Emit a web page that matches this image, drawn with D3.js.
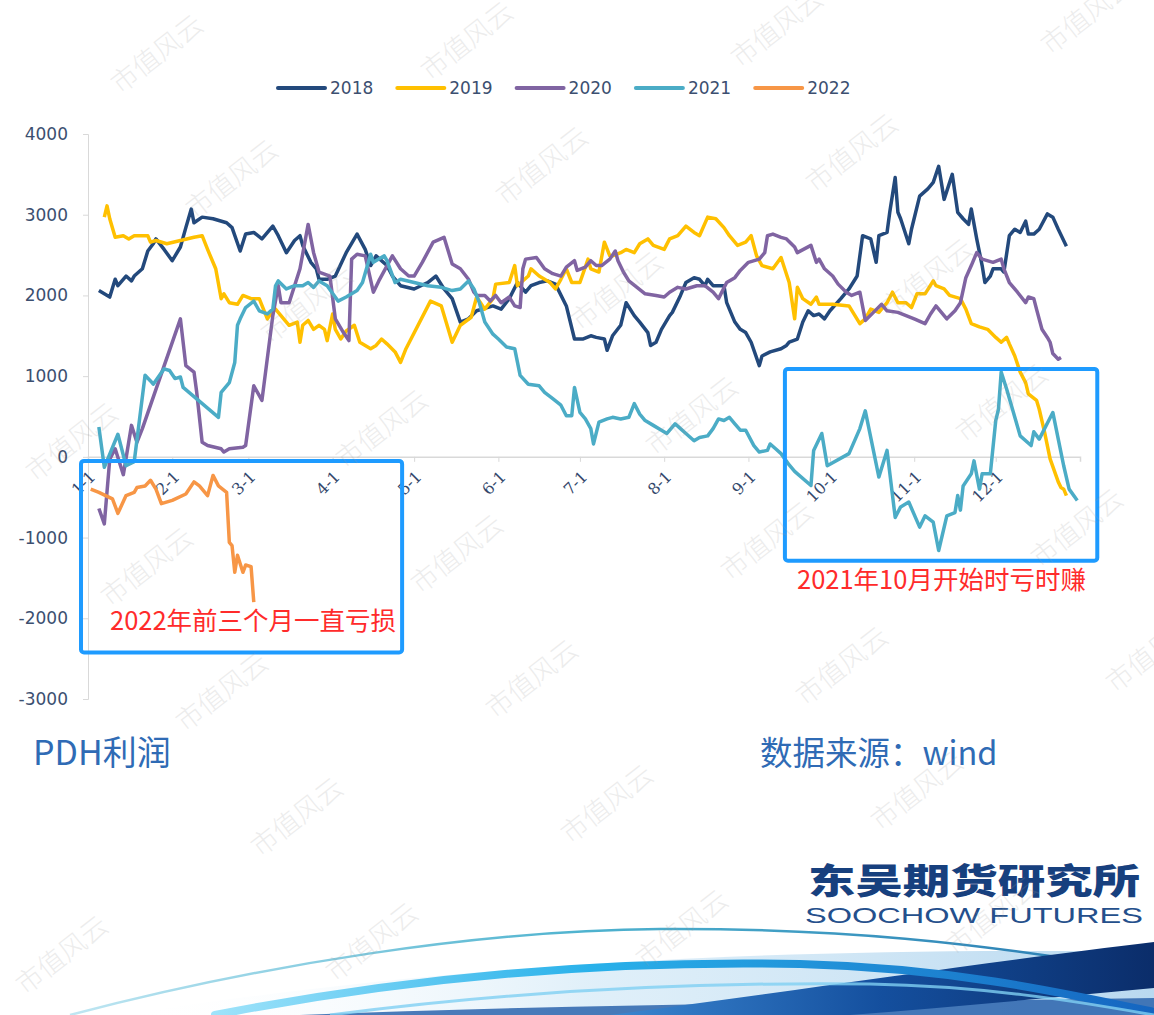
<!DOCTYPE html>
<html>
<head>
<meta charset="utf-8">
<script src="https://cdn.jsdelivr.net/npm/d3@7"></script>
<style>
  body { margin: 0; background: #fff; }
  text { font-family: "Noto Sans CJK SC", "Open Sans", sans-serif; }
</style>
</head>
<body>
<div class="chart"></div>
<script>
// ---- data (PDH profit, yuan/t) ----
const years = ["2018", "2019", "2020", "2021", "2022"];
const yTicks = [-3000, -2000, -1000, 0, 1000, 2000, 3000, 4000];

const s2018 = [["01-05",2060],["01-09",1980],["01-11",2200],["01-12",2120],["01-15",2240],["01-17",2180],["01-18",2240],["01-21",2330],["01-23",2550],["01-25",2640],["01-26",2700],["01-29",2570],
  ["02-01",2430],["02-04",2600],["02-06",2840],["02-08",3070],["02-09",2900],["02-12",2970],["02-16",2950],["02-21",2900],["02-23",2840],["02-26",2550],["02-28",2760],
  ["03-03",2780],["03-06",2700],["03-10",2860],["03-12",2740],["03-15",2530],["03-18",2680],["03-20",2740],["03-21",2620],["03-24",2410],["03-26",2330],["03-27",2200],["03-30",2200],
  ["04-02",2240],["04-06",2530],["04-10",2760],["04-13",2570],["04-15",2370],["04-17",2490],["04-21",2370],["04-23",2240],["04-26",2120],
  ["05-01",2080],["05-06",2160],["05-09",2240],["05-12",2080],["05-15",1960],["05-18",1670],["05-21",1710],["05-24",1810],["05-30",1870],
  ["06-02",1830],["06-05",1960],["06-08",2160],["06-11",2040],["06-13",2120],["06-16",2160],["06-19",2180],["06-22",2140],["06-26",1870],["06-29",1460],
  ["07-02",1460],["07-05",1500],["07-07",1480],["07-10",1460],["07-11",1320],["07-13",1500],["07-16",1630],["07-18",1910],["07-21",1750],["07-23",1670],["07-26",1540],["07-27",1380],["07-29",1420],["07-31",1580],
  ["08-03",1750],["08-04",1790],["08-07",2000],["08-09",2160],["08-12",2220],["08-14",2200],["08-16",2120],["08-17",2200],["08-19",2120],["08-23",2120],["08-24",1910],["08-27",1670],["08-29",1580],["08-31",1540],
  ["09-02",1420],["09-05",1130],["09-06",1250],["09-09",1300],["09-13",1340],["09-15",1380],["09-16",1420],["09-19",1460],["09-21",1670],["09-23",1810],["09-25",1750],["09-27",1770],["09-29",1710],
  ["10-01",1810],["10-05",1960],["10-08",2080],["10-11",2240],["10-13",2740],["10-16",2700],["10-18",2410],["10-19",2740],["10-22",2780],["10-23",3030],["10-25",3460],["10-26",3030],["10-27",2950],["10-30",2640],["10-31",2820],
  ["11-03",3230],["11-06",3320],["11-08",3400],["11-10",3600],["11-12",3190],["11-15",3500],["11-17",3030],["11-19",2950],["11-21",2880],["11-22",3070],["11-24",2700],["11-26",2370],["11-27",2160],["11-29",2240],["11-30",2330],
  ["12-03",2330],["12-04",2290],["12-06",2740],["12-08",2820],["12-10",2780],["12-12",2920],["12-13",2760],["12-15",2760],["12-17",2820],["12-20",3010],["12-22",2970],["12-24",2820],["12-27",2610]];

const s2019 = [["01-07",2970],["01-08",3110],["01-09",2950],["01-11",2720],["01-14",2740],["01-16",2700],["01-18",2740],["01-23",2740],["01-24",2660],["01-26",2680],["01-30",2640],
  ["02-04",2680],["02-09",2720],["02-12",2740],["02-14",2570],["02-17",2330],["02-19",1960],["02-20",2020],["02-22",1910],["02-25",1890],["02-27",2000],
  ["03-02",1960],["03-05",1960],["03-08",1710],["03-10",1810],["03-11",1830],["03-14",1710],["03-16",1630],["03-19",1670],["03-20",1420],["03-21",1630],["03-23",1690],["03-25",1580],["03-27",1630],["03-29",1580],["03-30",1440],
  ["04-01",1770],["04-02",1580],["04-04",1460],["04-06",1560],["04-09",1630],["04-11",1420],["04-13",1380],["04-15",1340],["04-17",1380],["04-19",1460],["04-21",1400],["04-24",1300],["04-26",1170],["04-28",1340],
  ["05-07",1930],["05-11",1870],["05-15",1420],["05-18",1630],["05-22",1730],["05-24",1980],["05-27",1830],["05-30",1960],["05-31",2140],
  ["06-05",2160],["06-07",2370],["06-08",2120],["06-12",2240],["06-13",2330],["06-16",2240],["06-20",2160],["06-22",2080],["06-24",2200],["06-26",2330],["06-28",2160],
  ["07-01",2160],["07-04",2450],["07-05",2330],["07-08",2290],["07-10",2660],["07-12",2490],["07-13",2490],["07-16",2530],["07-18",2570],["07-21",2530],["07-23",2640],["07-26",2700],["07-28",2620],
  ["08-01",2570],["08-03",2700],["08-06",2740],["08-09",2860],["08-12",2780],["08-14",2740],["08-17",2970],["08-20",2950],["08-23",2840],["08-25",2740],["08-28",2620],["08-31",2660],
  ["09-02",2740],["09-04",2490],["09-06",2370],["09-10",2330],["09-13",2470],["09-16",2160],["09-18",1710],["09-19",2100],["09-21",1960],["09-24",1890],["09-26",1980],["09-27",1890],
  ["10-02",1890],["10-08",1870],["10-12",1650],["10-14",1710],["10-16",1830],["10-19",1790],["10-22",1910],["10-24",2040],["10-26",1910],["10-29",1910],["10-31",1850],
  ["11-02",2020],["11-05",2020],["11-08",2180],["11-09",2120],["11-12",2080],["11-14",2000],["11-18",1960],["11-20",1830],["11-22",1650],["11-25",1610],["11-28",1580],
  ["12-01",1480],["12-03",1420],["12-05",1480],["12-06",1400],["12-08",1250],["12-10",1050],["12-12",920],["12-13",780],["12-16",700],["12-17",590],["12-19",300],["12-21",-25],["12-24",-310],["12-25",-380],["12-26",-400],["12-27",-480]];

const s2020 = [["01-05",-640],["01-07",-830],["01-09",-30],["01-11",100],["01-14",-220],["01-17",390],["01-19",180],["01-21",350],
  ["02-04",1710],["02-06",1130],["02-09",1050],["02-10",800],["02-12",180],["02-14",140],["02-19",100],["02-20",60],["02-22",100],["02-27",120],["02-28",140],
  ["03-03",880],["03-06",700],["03-10",1750],["03-12",2120],["03-13",1910],["03-16",1910],["03-20",2330],["03-23",2880],["03-25",2530],["03-27",2290],["03-31",2240],
  ["04-02",1710],["04-05",1540],["04-07",1440],["04-08",2450],["04-10",2510],["04-13",2490],["04-16",2040],["04-18",2180],["04-23",2490],["04-26",2330],["04-29",2240],
  ["05-01",2240],["05-04",2410],["05-08",2660],["05-12",2720],["05-15",2390],["05-18",2330],["05-21",2200],["05-23",2040],["05-24",2000],["05-27",2000],["05-29",1930],["05-31",2000],
  ["06-02",1910],["06-05",1980],["06-07",1870],["06-09",1850],["06-10",2330],["06-11",2450],["06-15",2470],["06-18",2330],["06-21",2270],["06-24",2240],["06-26",2350],["06-29",2430],["06-30",2310],
  ["07-03",2350],["07-05",2430],["07-07",2370],["07-09",2370],["07-12",2450],["07-14",2550],["07-15",2430],["07-17",2290],["07-19",2180],["07-22",2100],["07-25",2020],["07-29",2000],
  ["08-01",1980],["08-03",2040],["08-06",2100],["08-09",2080],["08-13",2120],["08-16",2120],["08-19",2040],["08-21",1960],["08-24",2160],["08-27",2220],["08-29",2310],
  ["09-01",2410],["09-05",2450],["09-07",2530],["09-08",2740],["09-10",2760],["09-13",2720],["09-15",2700],["09-18",2600],["09-19",2530],["09-24",2620],["09-26",2410],["09-27",2450],["09-29",2330],
  ["10-02",2240],["10-04",2140],["10-07",2040],["10-09",2000],["10-12",2040],["10-14",1690],["10-17",1790],["10-20",1890],["10-22",1810],["10-26",1790],["10-29",1750],
  ["11-01",1710],["11-05",1650],["11-07",1770],["11-09",1870],["11-13",1710],["11-16",1810],["11-18",1910],["11-20",2220],["11-22",2370],["11-24",2530],["11-26",2450],["11-30",2410],
  ["12-03",2450],["12-04",2330],["12-06",2160],["12-09",2040],["12-12",1910],["12-13",1980],["12-15",1960],["12-16",1830],["12-18",1580],["12-20",1480],["12-21",1420],["12-22",1280],["12-24",1210],["12-25",1230]];

const s2021 = [["01-05",370],["01-07",-130],["01-12",280],["01-15",-110],["01-18",-60],["01-22",1010],["01-24",940],["01-25",900],["01-29",1090],["01-31",1070],
  ["02-02",970],["02-04",990],["02-05",860],["02-18",490],["02-19",800],["02-21",880],["02-22",920],["02-24",1170],["02-25",1630],["02-26",1710],["02-28",1850],
  ["03-03",1930],["03-05",1810],["03-08",1770],["03-10",1830],["03-11",2120],["03-12",2180],["03-15",2080],["03-18",2120],["03-21",2120],["03-23",2160],["03-25",2100],["03-27",2180],["03-30",2120],
  ["04-03",1930],["04-06",1980],["04-10",2060],["04-12",2160],["04-15",2510],["04-16",2410],["04-18",2450],["04-20",2490],["04-21",2430],["04-24",2160],["04-26",2200],
  ["05-01",2160],["05-06",2120],["05-11",2100],["05-15",2060],["05-18",2080],["05-21",2180],["05-23",2080],["05-25",1910],["05-27",1670],["05-30",1520],
  ["06-01",1460],["06-04",1360],["06-07",1340],["06-09",1010],["06-12",900],["06-16",880],["06-18",800],["06-21",720],["06-24",640],["06-26",510],["06-28",510],["06-29",860],
  ["07-01",550],["07-03",470],["07-05",350],["07-06",160],["07-08",430],["07-11",470],["07-13",490],["07-16",470],["07-19",490],["07-21",660],["07-23",530],["07-25",450],["07-28",390],["07-31",330],
  ["08-02",290],["08-05",410],["08-07",350],["08-09",290],["08-12",200],["08-14",240],["08-17",260],["08-19",350],["08-21",470],["08-23",450],["08-25",490],["08-27",410],["08-29",330],["08-31",330],
  ["09-03",140],["09-05",60],["09-08",80],["09-09",160],["09-11",100],["09-13",40],["09-16",-100],["09-18",-180],["09-24",-355],["09-25",80],["09-28",290],["09-30",-110],
  ["10-08",40],["10-12",350],["10-14",570],["10-19",-250],["10-22",80],["10-25",-750],["10-27",-620],["10-30",-560],
  ["11-03",-870],["11-05",-730],["11-08",-810],["11-10",-1160],["11-13",-730],["11-16",-690],["11-17",-480],["11-18",-660],["11-19",-360],["11-22",-210],["11-23",-50],["11-25",-400],["11-26",-210],["11-29",-210],
  ["12-01",450],["12-02",590],["12-03",1050],["12-05",840],["12-10",260],["12-14",140],["12-15",310],["12-17",220],["12-22",550],["12-24",220],["12-26",-110],["12-28",-400],["12-31",-540]];

const s2022 = [["01-02",-400],["01-05",-440],["01-10",-520],["01-12",-700],["01-15",-480],["01-18",-440],["01-19",-380],["01-22",-360],["01-24",-290],["01-26",-400],["01-28",-580],
  ["02-01",-540],["02-06",-460],["02-09",-310],["02-11",-360],["02-14",-480],["02-16",-230],["02-18",-360],["02-21",-440],["02-22",-1060],["02-23",-1100],["02-24",-1430],["02-25",-1220],["02-27",-1430],["02-28",-1340],
  ["03-02",-1360],["03-03",-1800]];

const seriesValues = [s2018, s2019, s2020, s2021, s2022];
const colors = ["#23497c", "#ffc000", "#8064a2", "#4bacc6", "#f79646"];

const notes = [
  {text: "2022年前三个月一直亏损", from: "01-01", to: "04-24", top: -50, bottom: -2425, padL: 7, padR: 7, tx: 110, ty: 630},
  {text: "2021年10月开始时亏时赚", from: "09-17", to: "12-31", top: 1090, bottom: -1287, padL: 7, padR: 20, tx: 797, ty: 589}
];

// ---- drawing ----
const width = 1154, height = 1015;
const svg = d3.select(".chart").append("svg")
  .attr("width", width)
  .attr("height", height);

const parseDay = d3.timeParse("%m-%d");
const yearStart = new Date(1900, 0, 1), yearEnd = new Date(1901, 0, 1);

const x = d3.scaleTime().domain([yearStart, yearEnd]).range([88, 1080]);
const y = d3.scaleLinear().domain([-3000, 4000]).range([699, 134]);

const defs = svg.append("defs");

// bottom swoosh decoration
function grad(id, stops, x1, y1, x2, y2) {
  const g = defs.append("linearGradient").attr("id", id)
    .attr("x1", x1).attr("y1", y1).attr("x2", x2).attr("y2", y2);
  stops.forEach(s => g.append("stop").attr("offset", s[0]).attr("stop-color", s[1]).attr("stop-opacity", s[2] == null ? 1 : s[2]));
}
grad("gBack", [[0, "#ffffff", 0], [0.45, "#d9ecf8", 0.8], [1, "#b9d9f0", 1]], 0, 0, 1, 0);
grad("gThin", [[0, "#bfe6f2"], [0.5, "#4fb3cf"], [1, "#2c7fb4"]], 0, 0, 1, 0);
grad("gCyan", [[0, "#9ee3fa"], [0.4, "#29b1ea"], [1, "#1565c0"]], 0, 0, 1, 0);
grad("gNavy", [[0, "#3b86d0"], [0.5, "#144f9e"], [1, "#0b2d6a"]], 0, 0, 1, 0);

const deco = svg.append("g").classed("swoosh", true);
deco.append("path")
  .attr("d", "M120,1015 C380,975 700,945 1154,952 L1154,1015 Z")
  .attr("fill", "url(#gBack)");
deco.append("path")
  .attr("d", "M70,1015 C260,965 480,930 660,929 C850,928 980,945 1090,962")
  .attr("fill", "none").attr("stroke", "url(#gThin)").attr("stroke-width", 2.5);
deco.append("path")
  .attr("d", "M300,1015 C600,1003 900,1002 1154,998 L1154,1015 Z")
  .attr("fill", "#2c64ad").attr("opacity", 0.85);
deco.append("path")
  .attr("d", "M610,1015 C800,990 1000,960 1154,942 L1154,988 C1050,998 950,1007 850,1015 Z")
  .attr("fill", "url(#gNavy)");
deco.append("path")
  .attr("d", "M215,1015 C420,975 610,960 800,964 C950,968 1060,992 1154,1012")
  .attr("fill", "none").attr("stroke", "url(#gCyan)").attr("stroke-width", 8).attr("stroke-linecap", "round");
deco.append("path")
  .attr("d", "M330,1015 C520,990 700,982 870,984 C980,986 1070,1000 1154,1015")
  .attr("fill", "none").attr("stroke", "#7fd0f2").attr("stroke-width", 3).attr("opacity", 0.8);

// legend
const legend = svg.append("g").classed("legend", true)
  .attr("transform", "translate(278, 88)");
years.forEach((yr, i) => {
  const item = legend.append("g").attr("transform", `translate(${i * 119.3}, 0)`);
  item.append("line")
    .attr("x1", 0).attr("x2", 47)
    .attr("stroke", colors[i]).attr("stroke-width", 4).attr("stroke-linecap", "round");
  item.append("text")
    .attr("x", 52).attr("dy", "0.36em")
    .attr("fill", "#3c4f70").style("font-size", "17px")
    .style("font-family", "'DejaVu Sans', sans-serif")
    .text(yr);
});

// y axis
const yAxis = svg.append("g")
  .attr("transform", "translate(88, 0)")
  .call(d3.axisLeft(y).tickValues(yTicks).tickSize(5).tickPadding(15).tickFormat(d => String(d)));
yAxis.select(".domain").attr("stroke", "#d9d9d9");
yAxis.selectAll(".tick line").attr("stroke", "#d9d9d9");
yAxis.selectAll(".tick text")
  .attr("fill", "#3c4f70")
  .style("font-size", "17px")
  .style("font-family", "'DejaVu Sans', sans-serif");

// x axis along zero line
const monthTicks = d3.timeMonth.range(yearStart, yearEnd);
const xAxis = svg.append("g")
  .attr("transform", `translate(0, ${y(0)})`)
  .call(d3.axisBottom(x).tickValues(monthTicks).tickSize(5).tickFormat(d3.timeFormat("%-m-%-d")));
xAxis.select(".domain").attr("stroke", "#d9d9d9").attr("stroke-width", 1.5);
xAxis.selectAll(".tick line").attr("stroke", "#d9d9d9");
xAxis.selectAll(".tick text")
  .attr("x", 0).attr("y", 0).attr("dy", "0.35em")
  .attr("transform", "translate(4, 17) rotate(-45)")
  .attr("text-anchor", "end")
  .attr("fill", "#34486c")
  .style("font-size", "16px")
  .style("font-family", "'DejaVu Serif', serif");

// series lines
const line = d3.line()
  .x(d => x(parseDay(d[0])))
  .y(d => y(d[1]));

svg.append("g").classed("series", true)
  .selectAll("path")
  .data(seriesValues)
  .join("path")
  .attr("d", line)
  .attr("fill", "none")
  .attr("stroke", (_, i) => colors[i])
  .attr("stroke-width", 3.5)
  .attr("stroke-linejoin", "round");

// annotation boxes
const noteG = svg.append("g").classed("notes", true);
notes.forEach(n => {
  const x0 = x(parseDay(n.from)) - n.padL, x1 = x(parseDay(n.to)) + n.padR;
  noteG.append("rect")
    .attr("x", x0).attr("y", y(n.top))
    .attr("width", x1 - x0).attr("height", y(n.bottom) - y(n.top))
    .attr("rx", 3)
    .attr("fill", "none").attr("stroke", "#1e9bff").attr("stroke-width", 4);
  noteG.append("text")
    .attr("x", n.tx).attr("y", n.ty)
    .attr("fill", "#ff2b2b")
    .style("font-size", "25.5px")
    .text(n.text);
});

// captions
svg.append("text").attr("x", 33).attr("y", 765)
  .attr("fill", "#2f6bb5").style("font-size", "34px").text("PDH利润");
svg.append("text").attr("x", 760).attr("y", 765)
  .attr("fill", "#2f6bb5").style("font-size", "32.5px").text("数据来源：wind");

// logo
svg.append("text").attr("x", 808).attr("y", 894)
  .attr("fill", "#17407e").style("font-size", "35px").style("font-weight", 900)
  .attr("textLength", 332).attr("lengthAdjust", "spacingAndGlyphs")
  .text("东吴期货研究所");
svg.append("text").attr("x", 805).attr("y", 923)
  .attr("fill", "#244f8c").style("font-size", "22px")
  .style("font-family", "'Liberation Sans', Arial, sans-serif")
  .attr("textLength", 338).attr("lengthAdjust", "spacingAndGlyphs")
  .text("SOOCHOW FUTURES");

// watermark lattice
const wm = svg.append("g").classed("watermark", true).style("pointer-events", "none");
for (let j = -6; j <= 5; j++) {
  for (let i = -2; i <= 5; i++) {
    const cx = 147 + 310 * i + 75 * j, cy = 567 - 13 * i + 125 * j;
    if (cx < 0 || cx > width || cy < 15 || cy > height - 10) continue;
    wm.append("text")
      .attr("transform", `translate(${cx}, ${cy}) rotate(-38)`)
      .attr("text-anchor", "middle").attr("dy", "0.35em")
      .attr("fill", "#9a9a9a").attr("opacity", 0.18)
      .style("font-size", "27px").style("font-weight", 300)
      .text("市值风云");
  }
}
</script>
</body>
</html>
